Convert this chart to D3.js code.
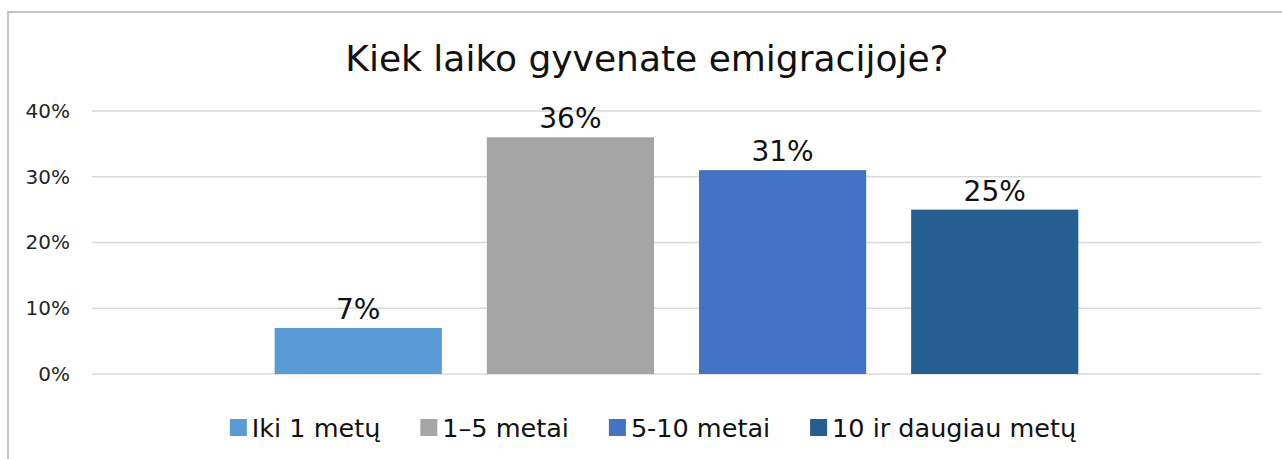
<!DOCTYPE html>
<html>
<head>
<meta charset="utf-8">
<script src="https://cdn.jsdelivr.net/npm/d3@7"></script>
<style>
  body { margin: 0; background: #fff; }
  svg { font-family: "DejaVu Sans", sans-serif; }
</style>
</head>
<body>
<svg id="chart"></svg>
<script>
const series = ["Iki 1 metų", "1–5 metai", "5-10 metai", "10 ir daugiau metų"];
const values = [7, 36, 31, 25];
const colors = ["#5b9bd5", "#a5a5a5", "#4472c4", "#255e91"];
const yTicks = [0, 10, 20, 30, 40];
const title = "Kiek laiko gyvenate emigracijoje?";

const W = 1282, H = 459;
const plot = {left: 92, right: 1261, top: 111, bottom: 374};

const svg = d3.select("#chart").attr("width", W).attr("height", H);

// frame (only left and top edges visible in the crop)
svg.append("path")
  .attr("d", `M8,${H} L8,12 L${W},12`)
  .attr("fill", "none")
  .attr("stroke", "#b3b0b0")
  .attr("stroke-width", 1.5);

svg.append("text")
  .attr("x", 647).attr("y", 71)
  .attr("text-anchor", "middle")
  .attr("font-size", 36)
  .attr("fill", "#111")
  .text(title);

const y = d3.scaleLinear().domain([0, 40]).range([plot.bottom, plot.top]);
const x = d3.scaleBand().domain(series).range([plot.left, plot.right])
  .paddingInner(0.212).paddingOuter(0.861);

// gridlines
svg.append("g").selectAll("line").data(yTicks).join("line")
  .attr("x1", plot.left).attr("x2", plot.right)
  .attr("y1", d => y(d)).attr("y2", d => y(d))
  .attr("stroke", "#d9d9d9").attr("stroke-width", 1.5);

// y axis labels
const yAxis = d3.axisLeft(y).tickValues(yTicks).tickFormat(d => d + "%").tickSize(0).tickPadding(22);
const ya = svg.append("g").attr("transform", `translate(${plot.left},0)`).call(yAxis);
ya.select(".domain").remove();
ya.selectAll("text").attr("font-size", 20).attr("fill", "#262626").attr("font-family", "DejaVu Sans, sans-serif");

// bars
svg.append("g").selectAll("rect").data(values).join("rect")
  .attr("x", (d, i) => x(series[i]))
  .attr("width", x.bandwidth())
  .attr("y", d => y(d))
  .attr("height", d => y(0) - y(d))
  .attr("fill", (d, i) => colors[i]);

// value labels
svg.append("g").selectAll("text").data(values).join("text")
  .attr("x", (d, i) => x(series[i]) + x.bandwidth() / 2)
  .attr("y", d => y(d) - 9)
  .attr("text-anchor", "middle")
  .attr("font-size", 28)
  .attr("fill", "#111")
  .text(d => d + "%");

// legend, centred under the plot
const legend = svg.append("g");
const items = legend.selectAll("g").data(series).join("g");
items.append("rect").attr("width", 17).attr("height", 17).attr("y", -18)
  .attr("fill", (d, i) => colors[i]);
items.append("text").attr("x", 22).attr("font-size", 25.5).attr("fill", "#111")
  .text(d => d);
let cx = 0;
items.each(function() {
  const w = this.querySelector("text").getComputedTextLength() + 22;
  d3.select(this).attr("transform", `translate(${cx},0)`);
  cx += w + 40;
});
const total = cx - 40;
legend.attr("transform", `translate(${653 - total / 2},437)`);
</script>
</body>
</html>
